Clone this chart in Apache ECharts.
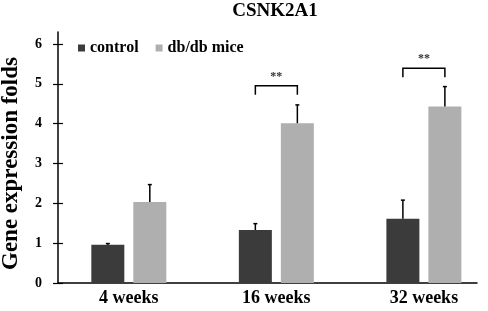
<!DOCTYPE html>
<html>
<head>
<meta charset="utf-8">
<script src="https://cdn.jsdelivr.net/npm/echarts@6/dist/echarts.min.js"></script>
<style>
    html, body { margin: 0; padding: 0; background: #fff; }
    #chart { width: 488px; height: 311px; }
</style>
</head>
<body>
<div id="chart"></div>
<script>
    // data
    const categories = ['4 weeks', '16 weeks', '32 weeks'];
    const controlMean = [0.96, 1.33, 1.61];
    const controlErrTop = [0.99, 1.49, 2.08];
    const dbMean = [2.03, 4.01, 4.43];
    const dbErrTop = [2.47, 4.47, 4.93];
    // [category index, height of bracket]
    const sigBrackets = [[1, 4.95], [2, 5.39]];
    const sigText = '**';
    const yTicks = [0, 1, 2, 3, 4, 5, 6];

    const FONT = "'Liberation Serif', 'Times New Roman', serif";
    const BAR_W = 33;
    const BAR_GAP = 9;
    const HALF = (BAR_W + BAR_GAP) / 2;

    let myChart = echarts.init(document.getElementById('chart'));

    function errorBar(shift) {
        return function (params, api) {
            let base = api.coord([api.value(0), api.value(1)]);
            let top = api.coord([api.value(0), api.value(2)]);
            let x = base[0] + shift;
            let style = { stroke: '#000', lineWidth: 1.5 };
            return {
                type: 'group',
                children: [
                    { type: 'line', shape: { x1: x, y1: base[1], x2: x, y2: top[1] }, style: style },
                    { type: 'line', shape: { x1: x - 2, y1: top[1], x2: x + 2, y2: top[1] }, style: style }
                ]
            };
        };
    }

    let option = {
        animation: false,
        title: {
            text: 'CSNK2A1',
            left: 275,
            top: 2,
            textAlign: 'center',
            padding: 0,
            textStyle: { fontFamily: FONT, fontWeight: 'bold', fontSize: 19, color: '#000' }
        },
        legend: {
            data: ['control', 'db/db mice'],
            left: 78,
            top: 40,
            padding: 0,
            itemWidth: 7,
            itemHeight: 7,
            itemGap: 17,
            icon: 'rect',
            textStyle: { fontFamily: FONT, fontWeight: 'bold', fontSize: 16, color: '#000' }
        },
        grid: { left: 58, right: 11, top: 32, bottom: 28, outerBoundsMode: 'none', containLabel: false },
        xAxis: {
            type: 'value',
            min: -0.48,
            max: 2.36,
            splitLine: { show: false },
            axisTick: { show: false },
            axisLine: { show: true, lineStyle: { color: '#000', width: 1.5 } },
            axisLabel: {
                customValues: [0, 1, 2],
                formatter: v => categories[Math.round(v)],
                margin: 6,
                fontFamily: FONT, fontWeight: 'bold', fontSize: 18, color: '#000'
            }
        },
        yAxis: [{
            type: 'value',
            min: 0, max: 6.3,
            name: 'Gene expression folds',
            nameLocation: 'middle',
            nameGap: 35,
            nameTextStyle: { fontFamily: FONT, fontWeight: 'bold', fontSize: 23, color: '#000', padding: [0, 12, 0, 0] },
            splitLine: { show: false },
            axisLine: { show: true, onZero: false, lineStyle: { color: '#000', width: 1.5 } },
            axisTick: { show: true, length: 5, customValues: yTicks, lineStyle: { color: '#000', width: 1.2 } },
            axisLabel: { customValues: yTicks, margin: 16, fontFamily: FONT, fontWeight: 'bold', fontSize: 14, color: '#000' }
        }, {
            type: 'value',
            min: 0, max: 6.3,
            position: 'left',
            splitLine: { show: false },
            axisLine: { show: false, onZero: false },
            axisLabel: { show: false },
            axisTick: { show: true, inside: true, length: 5, customValues: yTicks, lineStyle: { color: '#000', width: 1.2 } }
        }],
        series: [{
            name: 'control',
            type: 'bar',
            barWidth: BAR_W,
            barGap: (BAR_GAP / BAR_W * 100) + '%',
            itemStyle: { color: '#3b3b3b' },
            data: categories.map((c, i) => [i, controlMean[i]])
        }, {
            name: 'db/db mice',
            type: 'bar',
            barWidth: BAR_W,
            itemStyle: { color: '#afafaf' },
            data: categories.map((c, i) => [i, dbMean[i]])
        }, {
            type: 'custom',
            clip: false,
            z: 5,
            renderItem: errorBar(-HALF),
            data: categories.map((c, i) => [i, controlMean[i], controlErrTop[i]])
        }, {
            type: 'custom',
            clip: false,
            z: 5,
            renderItem: errorBar(HALF),
            data: categories.map((c, i) => [i, dbMean[i], dbErrTop[i]])
        }, {
            type: 'custom',
            clip: false,
            z: 5,
            renderItem: function (params, api) {
                let p = api.coord([api.value(0), api.value(1)]);
                let l = p[0] - HALF, r = p[0] + HALF, y = p[1];
                return {
                    type: 'group',
                    children: [{
                        type: 'polyline',
                        shape: { points: [[l, y + 9], [l, y], [r, y], [r, y + 9]] },
                        style: { stroke: '#000', lineWidth: 1.5, fill: null }
                    }, {
                        type: 'text',
                        style: {
                            text: sigText, x: p[0], y: y - 3,
                            align: 'center', verticalAlign: 'bottom',
                            font: 'bold 12px ' + FONT, fill: '#333'
                        }
                    }]
                };
            },
            data: sigBrackets
        }]
    };
    myChart.setOption(option);
</script>
</body>
</html>
